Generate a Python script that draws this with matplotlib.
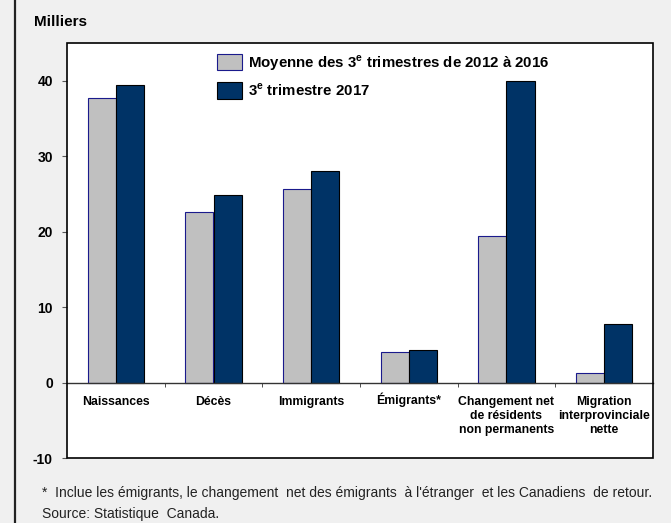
import matplotlib
matplotlib.use("Agg")
import matplotlib.pyplot as plt
import numpy as np
from matplotlib.lines import Line2D
from matplotlib.patches import Rectangle
from matplotlib.transforms import ScaledTranslation

plt.rcParams['font.family'] = ['Liberation Sans', 'DejaVu Sans']
plt.rcParams['mathtext.fontset'] = 'custom'
plt.rcParams['mathtext.rm'] = 'Liberation Sans'
plt.rcParams['mathtext.bf'] = 'Liberation Sans:bold'

categories = ["Naissances", "Décès", "Immigrants", "Émigrants*",
              "Changement net\nde résidents\nnon permanents",
              "Migration\ninterprovinciale\nnette"]
moyenne_2012_2016 = [37.7, 22.6, 25.7, 4.1, 19.4, 1.3]
trimestre_2017 = [39.4, 24.9, 28.0, 4.3, 39.9, 7.8]
label_moy = r"Moyenne des 3$^{\mathbf{e}}$ trimestres de 2012 à 2016"
label_2017 = r"3$^{\mathbf{e}}$ trimestre 2017"
yticks = [-10, 0, 10, 20, 30, 40]

bg = '#f0f0f0'
fig = plt.figure(figsize=(6.71, 5.23), dpi=100, facecolor=bg)
ax = fig.add_axes([67/671, 65/523, 586/671, 415/523])
ax.set_facecolor('white')

x = np.arange(len(categories))
w = 0.29
ax.bar(x - w/2, moyenne_2012_2016, w, color='#c0c0c0', edgecolor='#1a1a8c',
       linewidth=0.8, label=label_moy, zorder=3)
ax.bar(x + w/2, trimestre_2017, w, color='#003366', edgecolor='black',
       linewidth=0.8, label=label_2017, zorder=3)

ax.set_xlim(-0.5, len(categories) - 0.5)
ax.set_ylim(-10, 45)

# frame
for s in ax.spines.values():
    s.set_visible(False)
ax.add_patch(Rectangle((0, 0), 1, 1, transform=ax.transAxes, fill=False,
                       edgecolor='black', linewidth=1.2, zorder=5, clip_on=False))
ax.spines['bottom'].set_visible(True)
ax.spines['bottom'].set_position(('data', 0))
ax.spines['bottom'].set_linewidth(1.0)
ax.spines['bottom'].set_color('#333333')
ax.spines['bottom'].set_zorder(4)

ax.set_xticks(x)
ax.set_xticklabels(categories, fontsize=8.8, fontweight='bold', linespacing=1.2, va='top')
ax.tick_params(axis='x', which='major', length=0, pad=10)
ax.set_xticks(np.arange(len(categories) + 1)[1:-1] - 0.5, minor=True)
ax.tick_params(axis='x', which='minor', length=3, direction='out', color='#333333')
for lbl in ax.get_xticklabels():
    if lbl.get_text().startswith('É'):
        lbl.set_transform(lbl.get_transform() + ScaledTranslation(0, 3.5/100, fig.dpi_scale_trans))

ax.set_yticks(yticks)
ax.set_yticklabels([str(t) for t in yticks], fontsize=10, fontweight='bold')
ax.tick_params(axis='y', length=3.6, color='#555555', pad=6.5)

leg = ax.legend(loc='upper left', bbox_to_anchor=(0.256, 0.976), frameon=False,
                prop={'size': 10.8, 'weight': 'bold'}, handlelength=1.65,
                handleheight=1.3, labelspacing=0.6, handletextpad=0.4,
                borderpad=0, borderaxespad=0)

fig.text(34/671, 1 - 22/523, "Milliers", fontsize=11, fontweight='bold',
         ha='left', va='center')
fig.text(42/671, 1 - 493/523,
         "*  Inclue les émigrants, le changement  net des émigrants  à l'étranger  et les Canadiens  de retour.",
         fontsize=10, ha='left', va='center', color='#222222')
fig.text(42/671, 1 - 514/523, "Source: Statistique  Canada.",
         fontsize=10, ha='left', va='center', color='#222222')

fig.add_artist(Line2D([15/671, 15/671], [0, 1], transform=fig.transFigure,
                      color='#222222', linewidth=1.6))

fig.savefig("out.png", dpi=100, facecolor=bg)
